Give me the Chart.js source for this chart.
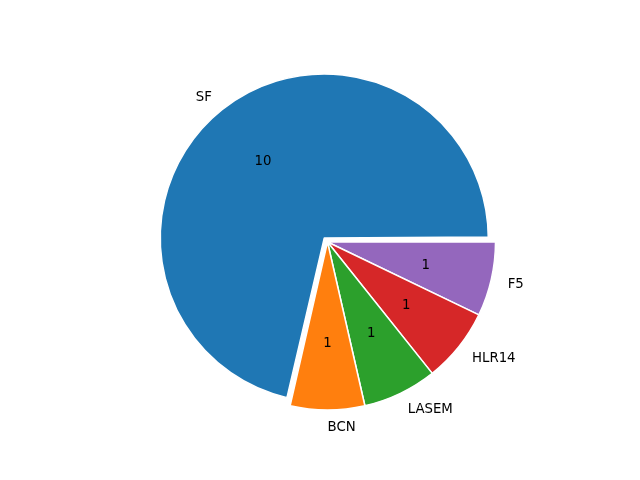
<!DOCTYPE html>
<html>
<head>
<meta charset="utf-8">
<script src="https://cdn.jsdelivr.net/npm/chart.js@4"></script>
<style>
  body { margin: 0; background: #fff; }
  #wrap { width: 640px; height: 480px; }
</style>
</head>
<body>
<div id="wrap"><canvas id="pie"></canvas></div>
<script>
// data, in matplotlib order (counter-clockwise from 3 o'clock)
const categories = ['SF', 'BCN', 'LASEM', 'HLR14', 'F5'];
const counts = [10, 1, 1, 1, 1];
const colors = ['#1f77b4', '#ff7f0e', '#2ca02c', '#d62728', '#9467bd'];
const explode = [20.8, 0, 0, 0, 0];

// chart.js goes clockwise, so flip the order
const rev = a => a.slice().reverse();

const R = 168;        // pie radius in px
const TRIM = 4;       // exploded wedge looks a bit smaller in the original

Chart.defaults.font.family = "'DejaVu Sans', sans-serif";
Chart.defaults.font.size = 13.3;

// how far chart.js moves an offset slice, and how much it grows it
function shiftOf(arc) {
    const o = (arc.options.offset || 0) / 4;
    const fix = 1 - Math.sin(Math.min(Math.PI, arc.circumference || 0));
    return { move: o, grow: o * fix };
}

const pieText = {
    id: 'pieText',
    afterDatasetsUpdate(chart) {
        chart.getDatasetMeta(0).data.forEach(function (arc) {
            if (arc.options.offset > 0) {
                arc.outerRadius -= shiftOf(arc).grow + TRIM;
            }
        });
    },
    // labels outside (1.1 r) and counts inside (0.6 r), like matplotlib
    afterDraw(chart) {
        const ctx = chart.ctx;
        const meta = chart.getDatasetMeta(0);
        const labels = chart.data.labels;
        const values = chart.data.datasets[0].data;
        ctx.save();
        ctx.fillStyle = '#000';
        ctx.font = "13.3px 'DejaVu Sans'";
        ctx.textBaseline = 'middle';
        meta.data.forEach(function (arc, i) {
            const mid = (arc.startAngle + arc.endAngle) / 2;
            const sh = shiftOf(arc);
            const r = arc.outerRadius + sh.grow;
            const c = Math.cos(mid), s = Math.sin(mid);
            const cx = arc.x + c * sh.move;
            const cy = arc.y + s * sh.move;
            ctx.textAlign = c >= -1e-9 ? 'left' : 'right';
            ctx.fillText(labels[i], cx + c * r * 1.1, cy + s * r * 1.1 + 1);
            ctx.textAlign = 'center';
            ctx.fillText(String(values[i]), cx + c * r * 0.6, cy + s * r * 0.6 + 1);
        });
        ctx.restore();
    }
};

new Chart(document.getElementById('pie'), {
    type: 'pie',
    data: {
        labels: rev(categories),
        datasets: [{
            data: rev(counts),
            backgroundColor: rev(colors),
            offset: rev(explode),
            borderColor: '#ffffff',
            borderWidth: 1.5,
            hoverOffset: 0
        }]
    },
    options: {
        responsive: true,
        maintainAspectRatio: false,
        animation: false,
        rotation: 90,
        radius: R,
        layout: {
            padding: { left: 15, right: 0, top: 4, bottom: 0 }
        },
        plugins: {
            legend: { display: false },
            tooltip: { enabled: false }
        }
    },
    plugins: [pieText]
});
</script>
</body>
</html>
